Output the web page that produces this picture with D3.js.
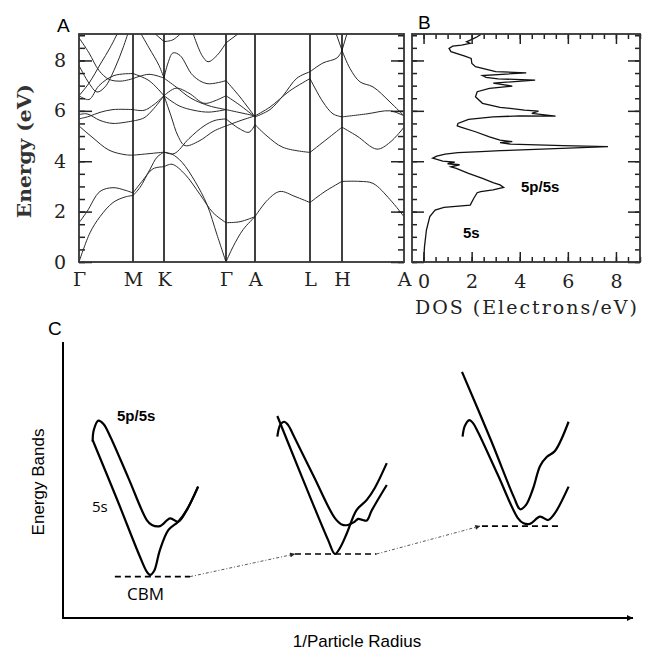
<!DOCTYPE html>
<html>
<head>
<meta charset="utf-8">
<script src="https://cdn.jsdelivr.net/npm/d3@7"></script>
<style>
  body { margin: 0; background: #fff; }
</style>
</head>
<body>
<script>
// ---- panel A : band structure ----
const kLabels = ["Γ", "M", "K", "Γ", "A", "L", "H", "A"];
const kPoints = [0, 0.54, 0.85, 1.47, 1.76, 2.31, 2.63, 3.25];
const energyTicks = [0, 2, 4, 6, 8];

const band1 = [[0,0],[0.11,1.16],[0.21,1.8],[0.34,2.36],[0.46,2.58],[0.54,2.64],[0.61,2.96],[0.71,3.68],[0.78,4.16],[0.85,4.36],[0.93,4.28],[1.03,3.96],[1.16,3.2],[1.28,2.28],[1.38,1.08],[1.47,0],[1.54,0.6],[1.64,1.28],[1.76,1.8],[1.89,2.48],[2.01,2.8],[2.16,2.6],[2.31,2.36],[2.46,2.8],[2.63,3.2],[2.81,3.2],[2.94,3.12],[3.11,2.48],[3.25,1.8]];
const band2 = [[0,1.56],[0.08,2.0],[0.21,2.8],[0.34,2.95],[0.46,2.85],[0.54,2.74],[0.63,3.2],[0.74,3.7],[0.85,3.78],[0.93,3.88],[1.06,3.48],[1.21,2.68],[1.34,1.96],[1.47,1.56],[1.61,1.6],[1.76,1.8]];
const band3 = [[0,5.4],[0.13,4.96],[0.3,4.44],[0.46,4.26],[0.54,4.24],[0.7,4.3],[0.85,4.36],[0.95,4.3],[1.1,4.9],[1.25,5.4],[1.36,5.62],[1.47,5.68],[1.6,5.3],[1.7,5.15],[1.76,5.45],[1.88,5.0],[2.04,4.55],[2.31,4.35],[2.48,4.88],[2.63,5.35],[2.78,5.0],[2.98,4.48],[3.11,4.75],[3.25,5.35]];
const band4 = [[0,5.85],[0.08,5.88],[0.21,5.62],[0.34,5.5],[0.54,5.6],[0.65,5.72],[0.75,6.1],[0.85,6.6],[0.92,5.8],[0.99,5.0],[1.06,4.62],[1.2,4.8],[1.35,5.2],[1.47,5.4],[1.62,5.62],[1.76,5.8]];
const band5 = [[0,5.68],[0.1,5.78],[0.21,5.94],[0.34,6.05],[0.54,6.05],[0.65,6.02],[0.75,6.25],[0.85,6.6],[1.0,6.2],[1.15,6.02],[1.3,5.95],[1.47,6.05],[1.62,5.92],[1.76,5.8],[1.91,6.15],[2.11,6.8],[2.31,7.28],[2.44,6.35],[2.54,5.88],[2.63,5.76],[2.88,5.88],[3.11,6.0],[3.25,5.8]];
const band6 = [[0,6.6],[0.1,6.45],[0.2,7.0],[0.35,7.4],[0.54,7.48],[0.7,7.2],[0.85,6.6],[0.97,6.9],[1.1,6.7],[1.25,6.3],[1.36,6.4],[1.47,6.6],[1.6,6.25],[1.76,5.76],[1.91,6.05],[2.04,6.6],[2.18,7.3],[2.31,7.55],[2.44,7.9],[2.58,8.1],[2.63,8.4],[2.69,9.2]];
const band7 = [[0,8.9],[0.1,8.3],[0.2,7.6],[0.3,7.25],[0.42,7.18],[0.54,7.28],[0.7,7.45],[0.85,7.3],[0.89,7.9],[0.94,8.3],[1.01,8.2],[1.14,7.4],[1.28,7.08],[1.47,7.2],[1.61,6.55],[1.76,5.76]];
const band8 = [[0,6.6],[0.1,7.1],[0.22,7.9],[0.31,8.5],[0.4,9.2]];
const band9 = [[0,7.8],[0.1,7.1],[0.18,6.75],[0.26,6.95],[0.36,7.7],[0.44,8.5],[0.5,9.2]];
const band10 = [[0.6,9.2],[0.7,8.5],[0.8,7.8],[0.85,7.3],[0.97,6.95],[1.12,6.5],[1.3,6.2],[1.47,6.05]];
const band11 = [[0.72,9.2],[0.85,8.75],[0.94,8.82],[1.05,9.2]];
const band12 = [[1.13,9.2],[1.23,8.2],[1.29,7.95],[1.38,8.2],[1.47,8.7],[1.64,9.2]];
const band13 = [[2.56,9.2],[2.63,8.4],[2.71,7.68],[2.81,7.15],[2.94,6.95],[3.11,6.35],[3.25,5.8]];
const bands = [band1, band2, band3, band4, band5, band6, band7, band8, band9, band10, band11, band12, band13];

// ---- panel B : density of states, [DOS, energy] ----
const dosTicks = [0, 2, 4, 6, 8];
const dos = [[0,0],[0.04,0.61],[0.12,1.27],[0.26,1.8],[0.48,2.06],[0.85,2.17],[1.94,2.26],[2.09,2.53],[2.23,2.75],[2.38,2.79],[2.89,2.86],[3.33,2.96],[3.18,3.06],[2.89,3.15],[2.45,3.32],[1.87,3.52],[1.36,3.72],[1.14,3.78],[1.5,3.86],[1.0,3.9],[1.3,3.96],[0.8,4.0],[0.38,4.12],[0.55,4.2],[0.9,4.28],[1.43,4.34],[2.38,4.38],[3.2,4.42],[4.64,4.47],[7.67,4.58],[5.8,4.62],[3.62,4.68],[3.18,4.74],[3.69,4.78],[3.18,4.84],[2.74,4.97],[2.16,5.17],[1.58,5.34],[1.4,5.4],[1.43,5.5],[1.87,5.66],[2.89,5.76],[4.0,5.8],[5.49,5.79],[4.5,5.9],[4.78,5.99],[4.2,6.03],[3.18,6.14],[2.45,6.3],[2.16,6.56],[2.23,6.76],[2.74,6.89],[3.47,6.96],[3.69,6.98],[3.3,7.04],[2.9,7.1],[4.64,7.22],[3.1,7.27],[2.6,7.33],[2.45,7.4],[4.27,7.51],[3.0,7.56],[2.16,7.75],[2.01,7.88],[1.98,8.08],[1.72,8.17],[1.14,8.35],[1.06,8.48],[1.21,8.57],[1.58,8.61],[1.94,8.68],[1.79,8.74],[2.01,8.84],[2.23,8.94],[2.38,9.03]];

// ---- panel C : schematic bands vs 1/particle radius (arbitrary units 0-100) ----
const c1Upper = [[5.2,63.9],[5.4,68.1],[6.2,71.5],[7.1,70.3],[8.3,65.7],[11.5,50.6],[14.7,35.5],[15.6,33.7],[17.0,33.3],[18.8,36.1],[20.2,34.9],[21.7,39.1],[23.7,47.6]];
const c1Lower = [[5.2,64.5],[9.4,43.4],[13.5,22.2],[14.7,16.8],[15.3,15.6],[16.0,17.1],[17.0,24.6],[18.5,31.9],[20.2,34.9],[21.7,39.1],[23.7,47.6]];
const c2Upper = [[37.6,65.7],[38.1,69.9],[38.8,71.1],[39.5,69.9],[40.4,66.3],[44.0,51.3],[47.7,36.2],[49.0,33.8],[50.0,33.7],[51.1,34.8],[51.8,35.9],[52.6,35.5],[53.3,35.3],[54.2,39.1],[56.8,48.2]];
const c2Lower = [[37.6,73.2],[42.0,50.7],[46.5,28.3],[47.7,23.2],[48.6,25.4],[49.8,30.7],[51.5,39.1],[53.3,42.8],[54.7,47.1],[56.8,56.1]];
const c3Upper = [[70.0,89.2],[75.1,64.3],[79.1,43.8],[80.2,39.4],[81.2,40.9],[82.5,47.1],[83.7,55.1],[84.9,58.4],[86.3,60.5],[88.7,71.1]];
const c3Lower = [[70.1,65.7],[70.5,69.6],[71.3,71.7],[71.9,70.7],[72.8,67.4],[76.3,51.8],[79.8,36.2],[80.8,34.3],[81.9,34.1],[83.7,36.7],[85.1,35.5],[86.3,38.0],[88.7,47.6]];
const cCurves = [c1Upper, c1Lower, c2Upper, c2Lower, c3Upper, c3Lower];
const cbmLevels = [[9.1, 22.3, 15.0], [40.7, 55.0, 23.2], [73.5, 87.2, 33.3]];   // x0, x1, y
const shiftArrows = [[22.3, 15.0, 40.7, 23.2], [55.0, 23.2, 73.2, 33.3]];      // x0, y0, x1, y1

const serifFont = "'DejaVu Serif', 'Liberation Serif', serif";
const sansFont = "'Liberation Sans', Arial, sans-serif";

const svg = d3.select("body")
  .append("svg")
    .attr("width", 653)
    .attr("height", 651);

const defs = svg.append("defs");
defs.append("clipPath").attr("id", "clipA")
  .append("rect").attr("x", 79).attr("y", 34).attr("width", 325).attr("height", 228);
defs.append("marker")
    .attr("id", "arrowSmall")
    .attr("viewBox", "0 0 10 10")
    .attr("refX", 10).attr("refY", 5)
    .attr("markerWidth", 7).attr("markerHeight", 5)
    .attr("markerUnits", "userSpaceOnUse")
    .attr("orient", "auto")
  .append("path").attr("d", "M0,0L10,5L0,10z").attr("fill", "#222");
defs.append("marker")
    .attr("id", "arrowBig")
    .attr("viewBox", "0 0 10 10")
    .attr("refX", 10).attr("refY", 5)
    .attr("markerWidth", 9).attr("markerHeight", 6)
    .attr("markerUnits", "userSpaceOnUse")
    .attr("orient", "auto")
  .append("path").attr("d", "M0,0L10,5L0,10z").attr("fill", "#000");

// ================= panel A =================
const xA = d3.scaleLinear().domain([0, 3.25]).range([79, 404]);
const yE = d3.scaleLinear().domain([0, 9.05]).range([262, 34]);
const minorE = d3.range(0, 9.01, 0.5);

const gA = svg.append("g");

// split each band at the high-symmetry points so kinks stay sharp
const splitBand = band => {
  const segs = [];
  let cur = [band[0]];
  for (let i = 1; i < band.length; i++) {
    cur.push(band[i]);
    if (i < band.length - 1 && kPoints.some(k => Math.abs(k - band[i][0]) < 1e-6)) {
      segs.push(cur);
      cur = [band[i]];
    }
  }
  segs.push(cur);
  return segs;
};

const bandLine = d3.line()
  .x(d => xA(d[0]))
  .y(d => yE(d[1]))
  .curve(d3.curveCatmullRom.alpha(0.5));

gA.append("g")
    .attr("clip-path", "url(#clipA)")
  .selectAll("path")
  .data(bands.flatMap(splitBand))
  .join("path")
    .attr("d", bandLine)
    .attr("fill", "none")
    .attr("stroke", "#2a2a2a")
    .attr("stroke-width", 1);

gA.selectAll("line.sym")
  .data(kPoints.slice(1, -1))
  .join("line")
    .attr("class", "sym")
    .attr("x1", d => xA(d)).attr("x2", d => xA(d))
    .attr("y1", yE(9.05)).attr("y2", yE(0))
    .attr("stroke", "#111")
    .attr("stroke-width", 1.6);

const styleAxis = g => {
  g.select(".domain").remove();
  g.selectAll(".tick line").attr("stroke", "#222").attr("stroke-width", 1.5);
  g.selectAll("text")
    .style("font-family", serifFont)
    .style("font-size", "19px")
    .attr("fill", "#222");
};

// left / right ticks of A
gA.append("g").attr("transform", `translate(${xA(0)},0)`)
  .call(d3.axisLeft(yE).tickValues(minorE).tickSizeInner(-6).tickSizeOuter(0).tickFormat(""))
  .call(styleAxis);
gA.append("g").attr("transform", `translate(${xA(0)},0)`)
  .call(d3.axisLeft(yE).tickValues(energyTicks).tickSizeInner(-13).tickSizeOuter(0).tickPadding(13))
  .call(styleAxis);
gA.append("g").attr("transform", `translate(${xA(3.25)},0)`)
  .call(d3.axisRight(yE).tickValues(minorE).tickSizeInner(-6).tickSizeOuter(0).tickFormat(""))
  .call(styleAxis);
gA.append("g").attr("transform", `translate(${xA(3.25)},0)`)
  .call(d3.axisRight(yE).tickValues(energyTicks).tickSizeInner(-13).tickSizeOuter(0).tickFormat(""))
  .call(styleAxis);
gA.append("g").attr("transform", `translate(0,${yE(0)})`)
  .call(d3.axisBottom(xA).tickValues(kPoints).tickSize(0).tickPadding(11).tickFormat((d, i) => kLabels[i]))
  .call(styleAxis);

gA.append("rect")
    .attr("x", xA(0)).attr("y", yE(9.05))
    .attr("width", xA(3.25) - xA(0)).attr("height", yE(0) - yE(9.05))
    .attr("fill", "none").attr("stroke", "#333").attr("stroke-width", 1.8);

gA.append("text")
    .text("Energy (eV)")
    .attr("transform", `translate(31,${yE(4.4)}) rotate(-90)`)
    .attr("text-anchor", "middle")
    .attr("textLength", 134)
    .attr("lengthAdjust", "spacingAndGlyphs")
    .style("font-family", serifFont)
    .style("font-size", "19px")
    .style("font-weight", "bold")
    .attr("fill", "#333");

gA.append("text").text("A")
    .attr("x", 57).attr("y", 32)
    .style("font-family", sansFont).style("font-size", "19px");

// ================= panel B =================
const xB = d3.scaleLinear().domain([-0.48, 9.0]).range([412, 640]);
const minorD = d3.range(0, 9.01, 0.5);
const gB = svg.append("g");

gB.append("path")
    .datum(dos)
    .attr("d", d3.line().x(d => xB(d[0])).y(d => yE(d[1])))
    .attr("fill", "none")
    .attr("stroke", "#111")
    .attr("stroke-width", 1.3);

gB.append("g").attr("transform", `translate(${xB(-0.48)},0)`)
  .call(d3.axisLeft(yE).tickValues(minorE).tickSizeInner(-5).tickSizeOuter(0).tickFormat(""))
  .call(styleAxis);
gB.append("g").attr("transform", `translate(${xB(-0.48)},0)`)
  .call(d3.axisLeft(yE).tickValues(energyTicks).tickSizeInner(-12).tickSizeOuter(0).tickFormat(""))
  .call(styleAxis);
gB.append("g").attr("transform", `translate(${xB(9.0)},0)`)
  .call(d3.axisRight(yE).tickValues(minorE).tickSizeInner(-5).tickSizeOuter(0).tickFormat(""))
  .call(styleAxis);
gB.append("g").attr("transform", `translate(${xB(9.0)},0)`)
  .call(d3.axisRight(yE).tickValues(energyTicks).tickSizeInner(-12).tickSizeOuter(0).tickFormat(""))
  .call(styleAxis);
gB.append("g").attr("transform", `translate(0,${yE(9.05)})`)
  .call(d3.axisTop(xB).tickValues(minorD).tickSizeInner(-5).tickSizeOuter(0).tickFormat(""))
  .call(styleAxis);
gB.append("g").attr("transform", `translate(0,${yE(9.05)})`)
  .call(d3.axisTop(xB).tickValues(dosTicks).tickSizeInner(-10).tickSizeOuter(0).tickFormat(""))
  .call(styleAxis);
gB.append("g").attr("transform", `translate(0,${yE(0)})`)
  .call(d3.axisBottom(xB).tickValues(minorD).tickSizeInner(-5).tickSizeOuter(0).tickFormat(""))
  .call(styleAxis);
gB.append("g").attr("transform", `translate(0,${yE(0)})`)
  .call(d3.axisBottom(xB).tickValues(dosTicks).tickSizeInner(-10).tickSizeOuter(0).tickPadding(13))
  .call(styleAxis);

gB.append("rect")
    .attr("x", xB(-0.48)).attr("y", yE(9.05))
    .attr("width", xB(9.0) - xB(-0.48)).attr("height", yE(0) - yE(9.05))
    .attr("fill", "none").attr("stroke", "#333").attr("stroke-width", 1.8);

gB.append("text").text("DOS (Electrons/eV)")
    .attr("x", 526).attr("y", 314)
    .attr("text-anchor", "middle")
    .attr("textLength", 222)
    .attr("lengthAdjust", "spacing")
    .style("font-family", serifFont).style("font-size", "19px").attr("fill", "#222");

gB.append("text").text("5p/5s")
    .attr("x", 521).attr("y", 192)
    .style("font-family", sansFont).style("font-size", "15px").style("font-weight", "bold");
gB.append("text").text("5s")
    .attr("x", 463).attr("y", 238)
    .style("font-family", sansFont).style("font-size", "15px").style("font-weight", "bold");

gB.append("text").text("B")
    .attr("x", 418).attr("y", 29)
    .style("font-family", sansFont).style("font-size", "19px");

// ================= panel C =================
const xC = d3.scaleLinear().domain([0, 100]).range([63, 633]);
const yC = d3.scaleLinear().domain([0, 100]).range([618, 342]);
const gC = svg.append("g");

gC.append("line")
    .attr("x1", xC(0)).attr("x2", xC(0))
    .attr("y1", yC(100)).attr("y2", yC(0))
    .attr("stroke", "#000").attr("stroke-width", 2);
gC.append("line")
    .attr("x1", xC(0) - 1).attr("x2", xC(100))
    .attr("y1", yC(0)).attr("y2", yC(0))
    .attr("stroke", "#000").attr("stroke-width", 2)
    .attr("marker-end", "url(#arrowBig)");

gC.selectAll("path.band")
  .data(cCurves)
  .join("path")
    .attr("class", "band")
    .attr("d", d3.line().x(d => xC(d[0])).y(d => yC(d[1])).curve(d3.curveCatmullRom.alpha(0.5)))
    .attr("fill", "none")
    .attr("stroke", "#000")
    .attr("stroke-width", 2.2)
    .attr("stroke-linejoin", "round");

gC.selectAll("line.cbm")
  .data(cbmLevels)
  .join("line")
    .attr("class", "cbm")
    .attr("x1", d => xC(d[0])).attr("x2", d => xC(d[1]))
    .attr("y1", d => yC(d[2])).attr("y2", d => yC(d[2]))
    .attr("stroke", "#000").attr("stroke-width", 1.6)
    .attr("stroke-dasharray", "6,4");

gC.selectAll("line.shift")
  .data(shiftArrows)
  .join("line")
    .attr("class", "shift")
    .attr("x1", d => xC(d[0])).attr("y1", d => yC(d[1]))
    .attr("x2", d => xC(d[2])).attr("y2", d => yC(d[3]))
    .attr("stroke", "#444").attr("stroke-width", 0.9)
    .attr("stroke-dasharray", "3,2,1,2")
    .attr("marker-end", "url(#arrowSmall)");

gC.append("text").text("C")
    .attr("x", 48).attr("y", 335)
    .style("font-family", sansFont).style("font-size", "19px");
gC.append("text").text("Energy Bands")
    .attr("transform", "translate(44,482) rotate(-90)")
    .attr("text-anchor", "middle")
    .style("font-family", sansFont).style("font-size", "17px");
gC.append("text").text("1/Particle Radius")
    .attr("x", 357).attr("y", 647)
    .attr("text-anchor", "middle")
    .style("font-family", sansFont).style("font-size", "17px");
gC.append("text").text("CBM")
    .attr("x", 127).attr("y", 600)
    .style("font-family", "'Open Sans', sans-serif").style("font-size", "17px");
gC.append("text").text("5s")
    .attr("x", 92).attr("y", 512)
    .style("font-family", "'Open Sans', sans-serif").style("font-size", "15px");
gC.append("text").text("5p/5s")
    .attr("x", 117).attr("y", 421)
    .style("font-family", sansFont).style("font-size", "15px").style("font-weight", "bold");
</script>
</body>
</html>
